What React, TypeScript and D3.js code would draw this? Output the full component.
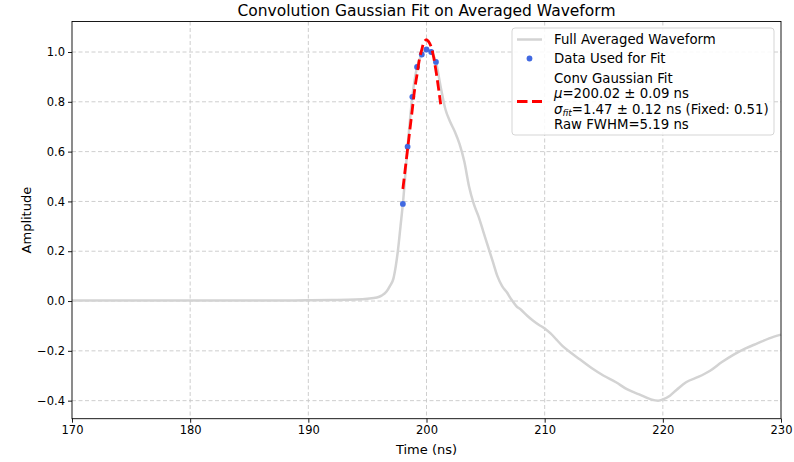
import React, { useEffect, useRef } from "react";
import * as d3 from "d3";

// averaged waveform (time in ns, amplitude)
const waveTime = [
  170, 175, 180, 185, 190, 192, 194, 195, 195.8, 196.2, 196.6, 196.9, 197.2, 197.4, 197.6, 197.8,
  198.0, 198.4, 198.8, 199.2, 199.6, 200.0, 200.4, 200.8, 201.2, 201.6, 202.0, 202.4, 202.8, 203.2,
  203.6, 204.0, 204.4, 204.8, 205.2, 205.6, 206.0, 206.4, 206.8, 207.2, 207.6, 208.0, 208.5, 209.0,
  209.5, 210.0, 210.5, 211.0, 211.5, 212.0, 213.0, 214.0, 215.0, 216.0, 217.0, 218.0, 219.0, 219.6,
  220.0, 220.6, 221.2, 222.0, 223.0, 224.0, 225.0, 226.0, 227.0, 228.0, 229.0, 230.0,
];
const waveAmp = [
  0.002, 0.002, 0.002, 0.002, 0.003, 0.004, 0.006, 0.009, 0.014, 0.022, 0.037, 0.06, 0.09, 0.14, 0.21, 0.3,
  0.39, 0.62, 0.82, 0.94, 0.99, 1.01, 1.0, 0.96, 0.86, 0.77, 0.72, 0.68, 0.63, 0.56,
  0.46, 0.39, 0.34, 0.28, 0.22, 0.16, 0.1, 0.06, 0.035, 0.005, -0.02, -0.035, -0.058, -0.078,
  -0.095, -0.11, -0.13, -0.155, -0.18, -0.2, -0.235, -0.27, -0.3, -0.325, -0.355, -0.375, -0.395, -0.4,
  -0.395, -0.38, -0.355, -0.325, -0.305, -0.28, -0.245, -0.215, -0.19, -0.17, -0.15, -0.135,
];

// samples used for the fit
const fitDataTime = [198.0, 198.4, 198.8, 199.2, 199.6, 200.0, 200.4, 200.8];
const fitDataAmp = [0.39, 0.62, 0.82, 0.94, 0.99, 1.01, 1.0, 0.96];

// fitted curve
const fitTime = [
  198.0, 198.2, 198.4, 198.6, 198.8, 199.0, 199.2, 199.4, 199.6, 199.8, 200.0, 200.2, 200.4,
  200.6, 200.8, 201.0, 201.2,
];
const fitAmp = [
  0.45, 0.53, 0.61, 0.69, 0.77, 0.85, 0.91, 0.97, 1.01, 1.04, 1.05, 1.04, 1.02, 0.98, 0.925, 0.86, 0.79,
];

const xTicks = [170, 180, 190, 200, 210, 220, 230];
const yTicks = [-0.4, -0.2, 0.0, 0.2, 0.4, 0.6, 0.8, 1.0];

const FONT = "'DejaVu Sans', sans-serif";

export default function App() {
  const svgRef = useRef<SVGSVGElement | null>(null);

  useEffect(() => {
    const svg = d3.select(svgRef.current);
    svg.selectAll("*").remove();

    const width = 794;
    const height = 462;
    const margin = { top: 21.5, right: 13, bottom: 43.3, left: 72 };

    svg.append("rect").attr("width", width).attr("height", height).attr("fill", "white");

    const x = d3.scaleLinear().domain([170, 230]).range([margin.left, width - margin.right]);
    const y = d3.scaleLinear().domain([-0.4725, 1.1225]).range([height - margin.bottom, margin.top]);

    // grid
    const grid = svg.append("g");
    grid.selectAll("line.gx")
      .data(xTicks.slice(1, -1))
      .enter()
      .append("line")
      .attr("x1", d => x(d)).attr("x2", d => x(d))
      .attr("y1", y.range()[1]).attr("y2", y.range()[0])
      .attr("stroke", "#c8c8c8")
      .attr("stroke-width", 0.9)
      .attr("stroke-dasharray", "4,2.5");
    grid.selectAll("line.gy")
      .data(yTicks)
      .enter()
      .append("line")
      .attr("x1", x.range()[0]).attr("x2", x.range()[1])
      .attr("y1", d => y(d)).attr("y2", d => y(d))
      .attr("stroke", "#c8c8c8")
      .attr("stroke-width", 0.9)
      .attr("stroke-dasharray", "4,2.5");

    // waveform
    const wave = waveTime.map((t, i) => [t, waveAmp[i]] as [number, number]);
    const line = d3.line<[number, number]>()
      .x(d => x(d[0]))
      .y(d => y(d[1]))
      .curve(d3.curveMonotoneX);
    svg.append("path")
      .datum(wave)
      .attr("d", line)
      .attr("fill", "none")
      .attr("stroke", "#d3d3d3")
      .attr("stroke-width", 2.5);

    // fit data points
    svg.selectAll("circle.pt")
      .data(fitDataTime.map((t, i) => [t, fitDataAmp[i]]))
      .enter()
      .append("circle")
      .attr("cx", d => x(d[0]))
      .attr("cy", d => y(d[1]))
      .attr("r", 2.9)
      .attr("fill", "royalblue");

    // fit curve
    const fit = fitTime.map((t, i) => [t, fitAmp[i]] as [number, number]);
    svg.append("path")
      .datum(fit)
      .attr("d", line.curve(d3.curveCatmullRom))
      .attr("fill", "none")
      .attr("stroke", "red")
      .attr("stroke-width", 2.8)
      .attr("stroke-dasharray", "10.5,4.5");

    // axes
    const xAxis = svg.append("g")
      .attr("transform", `translate(0,${y.range()[0]})`)
      .call(d3.axisBottom(x).tickValues(xTicks).tickFormat(d3.format("d")).tickSize(4).tickPadding(3));
    const yAxis = svg.append("g")
      .attr("transform", `translate(${x.range()[0]},0)`)
      .call(d3.axisLeft(y).tickValues(yTicks).tickFormat(d => d3.format(".1f")(d as number).replace("-", "\u2212")).tickSize(4).tickPadding(3));
    [xAxis, yAxis].forEach(g => {
      g.select(".domain").remove();
      g.selectAll("text").attr("font-family", FONT).attr("font-size", 11.5).attr("fill", "black");
      g.selectAll("line").attr("stroke", "black").attr("stroke-width", 0.9);
    });

    // frame
    svg.append("rect")
      .attr("x", x.range()[0])
      .attr("y", y.range()[1])
      .attr("width", x.range()[1] - x.range()[0])
      .attr("height", y.range()[0] - y.range()[1])
      .attr("fill", "none")
      .attr("stroke", "black")
      .attr("stroke-width", 0.9);

    // labels
    svg.append("text")
      .attr("x", (x.range()[0] + x.range()[1]) / 2)
      .attr("y", 15.5)
      .attr("text-anchor", "middle")
      .attr("font-family", FONT)
      .attr("font-size", 15.5)
      .text("Convolution Gaussian Fit on Averaged Waveform");
    svg.append("text")
      .attr("x", (x.range()[0] + x.range()[1]) / 2)
      .attr("y", 454)
      .attr("text-anchor", "middle")
      .attr("font-family", FONT)
      .attr("font-size", 13)
      .text("Time (ns)");
    svg.append("text")
      .attr("transform", `translate(31,${(y.range()[0] + y.range()[1]) / 2}) rotate(-90)`)
      .attr("text-anchor", "middle")
      .attr("font-family", FONT)
      .attr("font-size", 13)
      .text("Amplitude");

    // legend
    const lg = svg.append("g").attr("font-family", FONT).attr("font-size", 13.3);
    lg.append("rect")
      .attr("x", 512).attr("y", 28)
      .attr("width", 262).attr("height", 107)
      .attr("rx", 3)
      .attr("fill", "white").attr("fill-opacity", 0.85)
      .attr("stroke", "#d0d0d0").attr("stroke-width", 0.9);
    lg.append("line")
      .attr("x1", 517).attr("x2", 542).attr("y1", 39.5).attr("y2", 39.5)
      .attr("stroke", "#d3d3d3").attr("stroke-width", 2.5);
    lg.append("circle").attr("cx", 529.5).attr("cy", 58.5).attr("r", 2.9).attr("fill", "royalblue");
    lg.append("line")
      .attr("x1", 517).attr("x2", 542).attr("y1", 101.5).attr("y2", 101.5)
      .attr("stroke", "red").attr("stroke-width", 2.8).attr("stroke-dasharray", "10.5,4.5");

    const tx = 554;
    lg.append("text").attr("x", tx).attr("y", 44).text("Full Averaged Waveform");
    lg.append("text").attr("x", tx).attr("y", 63).text("Data Used for Fit");
    lg.append("text").attr("x", tx).attr("y", 82.5).text("Conv Gaussian Fit");
    const mu = lg.append("text").attr("x", tx).attr("y", 98);
    mu.append("tspan").attr("font-style", "italic").text("μ");
    mu.append("tspan").text("=200.02 ± 0.09 ns");
    const sg = lg.append("text").attr("x", tx).attr("y", 113.5);
    sg.append("tspan").attr("font-style", "italic").text("σ");
    sg.append("tspan").attr("font-style", "italic").attr("font-size", 9).attr("dy", 2).text("fit");
    sg.append("tspan").attr("dy", -2).text("=1.47 ± 0.12 ns (Fixed: 0.51)");
    lg.append("text").attr("x", tx).attr("y", 128.5).text("Raw FWHM=5.19 ns");
  }, []);

  return (
    <div style={{ position: "absolute", left: 0, top: 0 }}>
      <svg ref={svgRef} width={794} height={462} style={{ display: "block" }}></svg>
    </div>
  );
}
